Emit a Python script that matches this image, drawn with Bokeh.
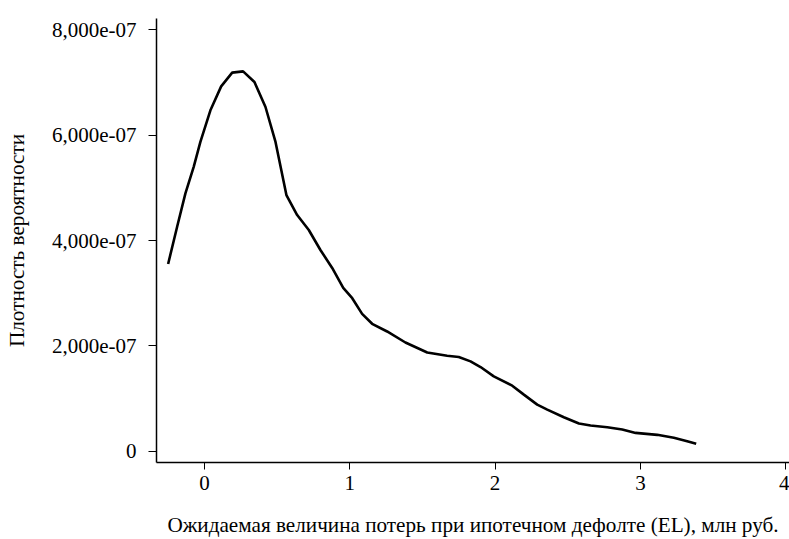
from bokeh.plotting import figure
from bokeh.models import FixedTicker, ColumnDataSource, Range1d
from bokeh.embed import file_html
from bokeh.resources import INLINE

# Expected loss (EL), mln RUB
el_values = [-0.250, -0.188, -0.131, -0.074, -0.028, 0.041, 0.115, 0.191, 0.266, 0.344,
             0.420, 0.489, 0.564, 0.638, 0.718, 0.798, 0.879, 0.955, 1.017, 1.085,
             1.154, 1.257, 1.383, 1.533, 1.670, 1.750, 1.831, 1.900, 1.991, 2.118,
             2.198, 2.290, 2.359, 2.473, 2.577, 2.657, 2.772, 2.875, 2.967, 3.116,
             3.230, 3.322, 3.384]
# Probability density
density = [3.555e-7, 4.261e-7, 4.894e-7, 5.398e-7, 5.871e-7, 6.472e-7, 6.926e-7, 7.186e-7, 7.210e-7, 7.008e-7,
           6.534e-7, 5.871e-7, 4.862e-7, 4.483e-7, 4.199e-7, 3.820e-7, 3.479e-7, 3.100e-7, 2.905e-7, 2.608e-7,
           2.419e-7, 2.273e-7, 2.064e-7, 1.875e-7, 1.813e-7, 1.788e-7, 1.705e-7, 1.598e-7, 1.420e-7, 1.244e-7,
           1.074e-7, 0.884e-7, 0.790e-7, 0.644e-7, 0.525e-7, 0.487e-7, 0.455e-7, 0.411e-7, 0.348e-7, 0.311e-7,
           0.254e-7, 0.189e-7, 0.140e-7]

x_ticks = [0, 1, 2, 3, 4]
y_ticks = [0.0, 2e-7, 4e-7, 6e-7, 8e-7]
y_tick_labels = ["0", "2,000e-07", "4,000e-07", "6,000e-07", "8,000e-07"]

x_title = "Ожидаемая величина потерь при ипотечном дефолте (EL), млн руб."
y_title = "Плотность вероятности"

FONT = "Liberation Serif"

p = figure(width=789, height=539, output_backend="svg", toolbar_location=None,
           x_range=Range1d(-0.330, 4.026), y_range=Range1d(-0.214e-7, 8.214e-7),
           min_border_left=156, min_border_right=0, min_border_top=18, min_border_bottom=76)

src = ColumnDataSource(dict(x=el_values, y=density))
p.line("x", "y", source=src, line_color="black", line_width=2.6)

p.outline_line_color = None
p.xgrid.grid_line_color = None
p.ygrid.grid_line_color = None
p.background_fill_color = "white"
p.border_fill_color = "white"

p.xaxis.ticker = FixedTicker(ticks=x_ticks)
p.yaxis.ticker = FixedTicker(ticks=y_ticks)
p.yaxis.major_label_overrides = {t: l for t, l in zip(y_ticks, y_tick_labels)}
p.xaxis.major_label_overrides = {t: str(t) for t in x_ticks}

for ax in (p.xaxis, p.yaxis):
    ax.axis_line_color = "black"
    ax.axis_line_width = 1.5
    ax.major_tick_line_color = "black"
    ax.major_tick_line_width = 1
    ax.major_tick_in = 0
    ax.minor_tick_line_color = None
    ax.major_label_text_font = FONT
    ax.major_label_text_font_size = "21px"
    ax.major_label_text_color = "black"
    ax.axis_label_text_font = FONT
    ax.axis_label_text_font_size = "21.2px"
    ax.axis_label_text_font_style = "normal"
    ax.axis_label_text_color = "black"

p.xaxis.major_tick_out = 7
p.yaxis.major_tick_out = 8
p.xaxis.major_label_standoff = 6
p.yaxis.major_label_standoff = 12
p.xaxis.axis_label = x_title
p.yaxis.axis_label = y_title
p.xaxis.axis_label_standoff = 20
p.yaxis.axis_label_standoff = 20

open("out.html", "w").write(file_html(p, INLINE))
